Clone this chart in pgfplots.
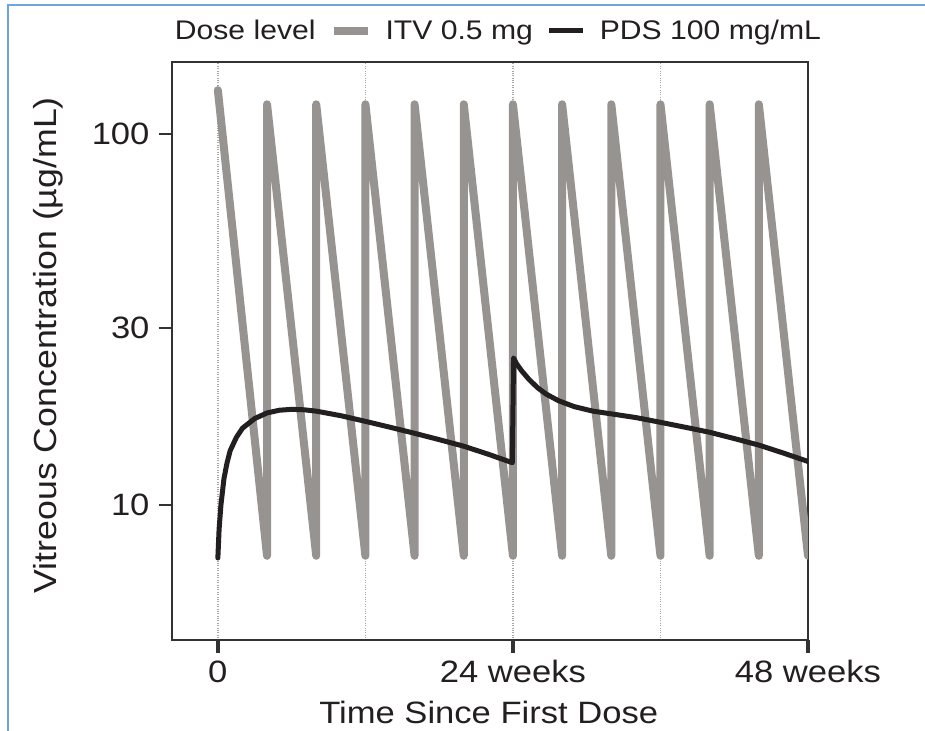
\documentclass[border=0pt]{standalone}
\usepackage{pgfplots}
\pgfplotsset{compat=1.18}
\usepackage{fontspec}
\setmainfont{Liberation Sans}[FakeStretch=1.12]
\definecolor{itvgray}{RGB}{150,147,145}
\definecolor{pdsblack}{RGB}{35,31,32}
\definecolor{frameblue}{RGB}{110,165,220}
\definecolor{txt}{RGB}{35,31,32}
\definecolor{axcol}{RGB}{50,50,50}

\begin{document}
\begin{tikzpicture}[x=1bp,y=1bp]
\useasboundingbox (0,0) rectangle (925,731);
\draw[frameblue, line width=2bp] (8,0) -- (8,726) -- (925,726);
\begin{axis}[
  at={(172bp,91bp)}, anchor=south west,
  scale only axis, width=636bp, height=578bp,
  ymode=log,
  xmin=-3.73, xmax=48, ymin=4.33, ymax=156,
  axis line style={axcol, line width=2.5bp},
  tick align=outside,
  major tick length=13bp,
  xtick={0,24,48}, xticklabels={0,24 weeks,48 weeks},
  minor xtick={12,36},
  minor tick length=0pt,
  ytick={10,30,100}, yticklabels={10,30,100},
  yminorticks=false,
  x tick style={axcol, line width=3.5bp},
  y tick style={axcol, line width=2bp},
  xmajorgrids, xminorgrids,
  major grid style={black!35, dotted, line width=1.5bp},
  minor grid style={black!35, dotted, line width=1.5bp},
  ytick pos=left, xtick pos=bottom,
  tick label style={font=\fontsize{31}{36}\selectfont, text=txt},
  yticklabel style={xshift=-6bp},
  xticklabel style={yshift=-4bp},
  xlabel={Time Since First Dose},
  ylabel={Vitreous Concentration (µg/mL)},
  every axis x label/.style={at={(axis description cs:0.498,-0.126)}, anchor=center,
    font=\fontsize{31}{36}\selectfont, text=txt},
  every axis y label/.style={at={(axis description cs:-0.195,0.51)}, rotate=90, anchor=center,
    font=\fontsize{32}{36}\selectfont, text=txt},
  legend columns=-1,
  legend style={draw=none, fill=none, at={(0.503,1.054)}, anchor=center,
    font=\fontsize{27}{31}\selectfont, text=txt,
    /tikz/every even column/.append style={column sep=12bp},
    /tikz/every odd column/.append style={column sep=12bp}},
  legend image code/.code={\draw[#1, line cap=butt] (0bp,0bp) -- (34bp,0bp);},
]
\addlegendimage{empty legend}
\addlegendentry{Dose level}

% ITV 0.5 mg, dosed every 4 weeks
\addplot[itvgray, line width=8bp, line join=round, line cap=round] coordinates {
(0,131) (4,7.3) (4,120) (8,7.3) (8,120) (12,7.3) (12,120) (16,7.3) (16,120)
(20,7.3) (20,120) (24,7.3) (24,120) (28,7.3) (28,120) (32,7.3) (32,120)
(36,7.3) (36,120) (40,7.3) (40,120) (44,7.3) (44,120) (48,7.3)
};
\addlegendentry{ITV 0.5 mg}

% PDS 100 mg/mL, refill at 24 weeks
\addplot[pdsblack, line width=5bp, line join=round, line cap=round] coordinates {
(0,7.2) (0.1,8.6) (0.25,10.0) (0.5,11.8) (0.75,13.0) (1,14.0) (1.5,15.2)
(2,16.1) (3,17.1) (4,17.7) (5,18.0) (6,18.1) (7,18.05) (8,17.9) (10,17.4)
(12,16.8) (14,16.2) (16,15.6) (18,15.0) (20,14.4) (22,13.7) (23.95,13.0)
(24.05,24.9) (24.3,24.0) (24.7,23.0) (25.3,21.8) (26,20.7) (26.7,19.9)
(27.7,19.1) (29,18.4) (30.5,17.9) (32,17.6) (34,17.2) (36,16.7) (38,16.2)
(40,15.7) (42,15.1) (44,14.5) (46,13.8) (48,13.1)
};
\addlegendentry{PDS 100 mg/mL}
\end{axis}
\end{tikzpicture}
\end{document}
